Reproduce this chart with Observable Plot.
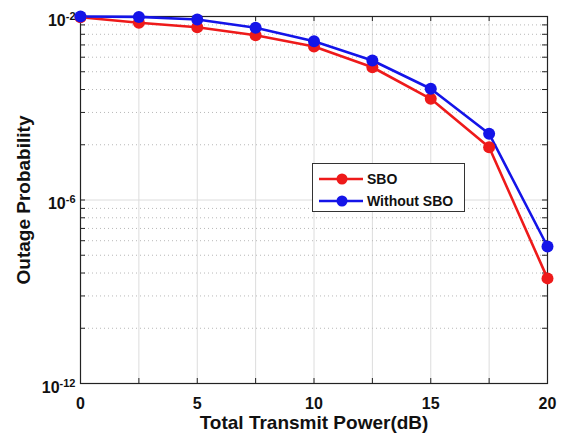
<!DOCTYPE html>
<html>
<head>
<meta charset="utf-8">
<script src="https://cdn.jsdelivr.net/npm/d3@7"></script>
<script src="https://cdn.jsdelivr.net/npm/@observablehq/plot@0.6"></script>
<style>
  html, body { margin: 0; padding: 0; background: #fff; }
  #wrap { position: relative; width: 565px; height: 437px; font-family: "Liberation Sans", Arial, sans-serif; }
  #legend { position: absolute; left: 312px; top: 163px; width: 153px; height: 49px; border: 1px solid #333; background: #fff; box-sizing: border-box; font-weight: bold; font-size: 14px; color: #111; }
  .row { position: absolute; left: 5px; height: 16px; display: flex; align-items: center; }
  .row svg { margin-right: 3px; }
</style>
</head>
<body>
<div id="wrap"></div>
<script>
// Data (y on the chart's underlying log grid, two decades top to bottom)
const power = [0, 2.5, 5, 7.5, 10, 12.5, 15, 17.5, 20];
const sbo = [0.991, 0.924, 0.874, 0.791, 0.686, 0.529, 0.356, 0.194, 0.0374];
const withoutSbo = [1.0, 0.995, 0.963, 0.868, 0.733, 0.576, 0.404, 0.2296, 0.0558];
const seriesNames = ["SBO", "Without SBO"];
const seriesColors = ["#ee1a1a", "#1414e8"];
const xTickLabels = [0, 5, 10, 15, 20];
const xTickMarks = [0, 2.5, 5, 7.5, 10, 12.5, 15, 17.5, 20];
const yTickValues = [0.01, 0.1, 1];
const yTickLabels = ["10^-12", "10^-6", "10^-2"];

const rows = [];
power.forEach((p, i) => {
  rows.push({power: p, value: sbo[i], series: seriesNames[0]});
});
power.forEach((p, i) => {
  rows.push({power: p, value: withoutSbo[i], series: seriesNames[1]});
});

const W = 565, H = 437, mL = 80, mR = 18, mT = 16, mB = 54;
const pw = W - mL - mR, ph = H - mT - mB;
const allLog = d3.scaleLog().domain([0.01, 1]).ticks();
const minor = allLog.filter(v => !yTickValues.some(t => Math.abs(t - v) < 1e-9));

const chart = Plot.plot({
  width: W, height: H,
  marginLeft: mL, marginRight: mR, marginTop: mT, marginBottom: mB,
  style: {fontFamily: "Liberation Sans, Arial, sans-serif", background: "#fff"},
  x: {domain: [0, 20]},
  y: {type: "log", domain: [0.01, 1]},
  color: {domain: seriesNames, range: seriesColors},
  marks: [
    Plot.ruleX(xTickMarks.slice(1, -1), {stroke: "#dcdcdc", strokeWidth: 1}),
    Plot.ruleY(minor, {stroke: "#b8b8b8", strokeDasharray: "1,3", strokeWidth: 1}),
    Plot.ruleY([0.1], {stroke: "#dcdcdc", strokeWidth: 1}),
    // inward ticks
    Plot.ruleX(xTickMarks, {insetTop: ph - 5, stroke: "#222"}),
    Plot.ruleX(xTickMarks, {insetBottom: ph - 5, stroke: "#222"}),
    Plot.ruleY(allLog, {insetRight: pw - 5, stroke: "#222"}),
    Plot.ruleY(allLog, {insetLeft: pw - 5, stroke: "#222"}),
    Plot.frame({stroke: "#222", strokeWidth: 1.2}),
    Plot.axisX({ticks: xTickLabels, tickSize: 0, tickPadding: 14, fontSize: 16, fontWeight: "bold", label: null, fill: "#111"}),
    Plot.axisY({ticks: yTickValues, tickSize: 0, tickPadding: 5, dy: 4, fontSize: 16, fontWeight: "bold", label: null, fill: "#111",
      tickFormat: d => yTickLabels[yTickValues.findIndex(t => Math.abs(t - d) < 1e-12)]}),
    Plot.line(rows, {x: "power", y: "value", z: "series", stroke: "series", strokeWidth: 2.6}),
    Plot.dot(rows, {x: "power", y: "value", fill: "series", r: 6}),
    Plot.text(["Total Transmit Power(dB)"], {frameAnchor: "bottom", dy: 45, fontSize: 19, fontWeight: "bold", fill: "#111"}),
    Plot.text(["Outage Probability"], {frameAnchor: "left", textAnchor: "middle", rotate: -90, dx: -57, fontSize: 19, fontWeight: "bold", fill: "#111"})
  ]
});

// render superscripts in y tick labels
d3.select(chart).selectAll("g[aria-label='y-axis tick label'] text").each(function() {
  const t = d3.select(this);
  const s = t.text();
  const m = s.match(/^(\d+)\^(.+)$/);
  if (!m) return;
  t.text(null);
  t.append("tspan").text(m[1]);
  t.append("tspan").attr("dy", "-0.55em").attr("font-size", "11px").text(m[2]);
});

const wrap = document.getElementById("wrap");
wrap.appendChild(chart);

const legend = document.createElement("div");
legend.id = "legend";
seriesNames.forEach((name, i) => {
  const row = document.createElement("div");
  row.className = "row";
  row.style.top = (i === 0 ? 7 : 29) + "px";
  row.innerHTML = `<svg width="46" height="16"><line x1="1" y1="8" x2="45" y2="8" stroke="${seriesColors[i]}" stroke-width="2.6"/><circle cx="24" cy="8" r="5.5" fill="${seriesColors[i]}"/></svg><span>${name}</span>`;
  legend.appendChild(row);
});
wrap.appendChild(legend);
</script>
</body>
</html>
